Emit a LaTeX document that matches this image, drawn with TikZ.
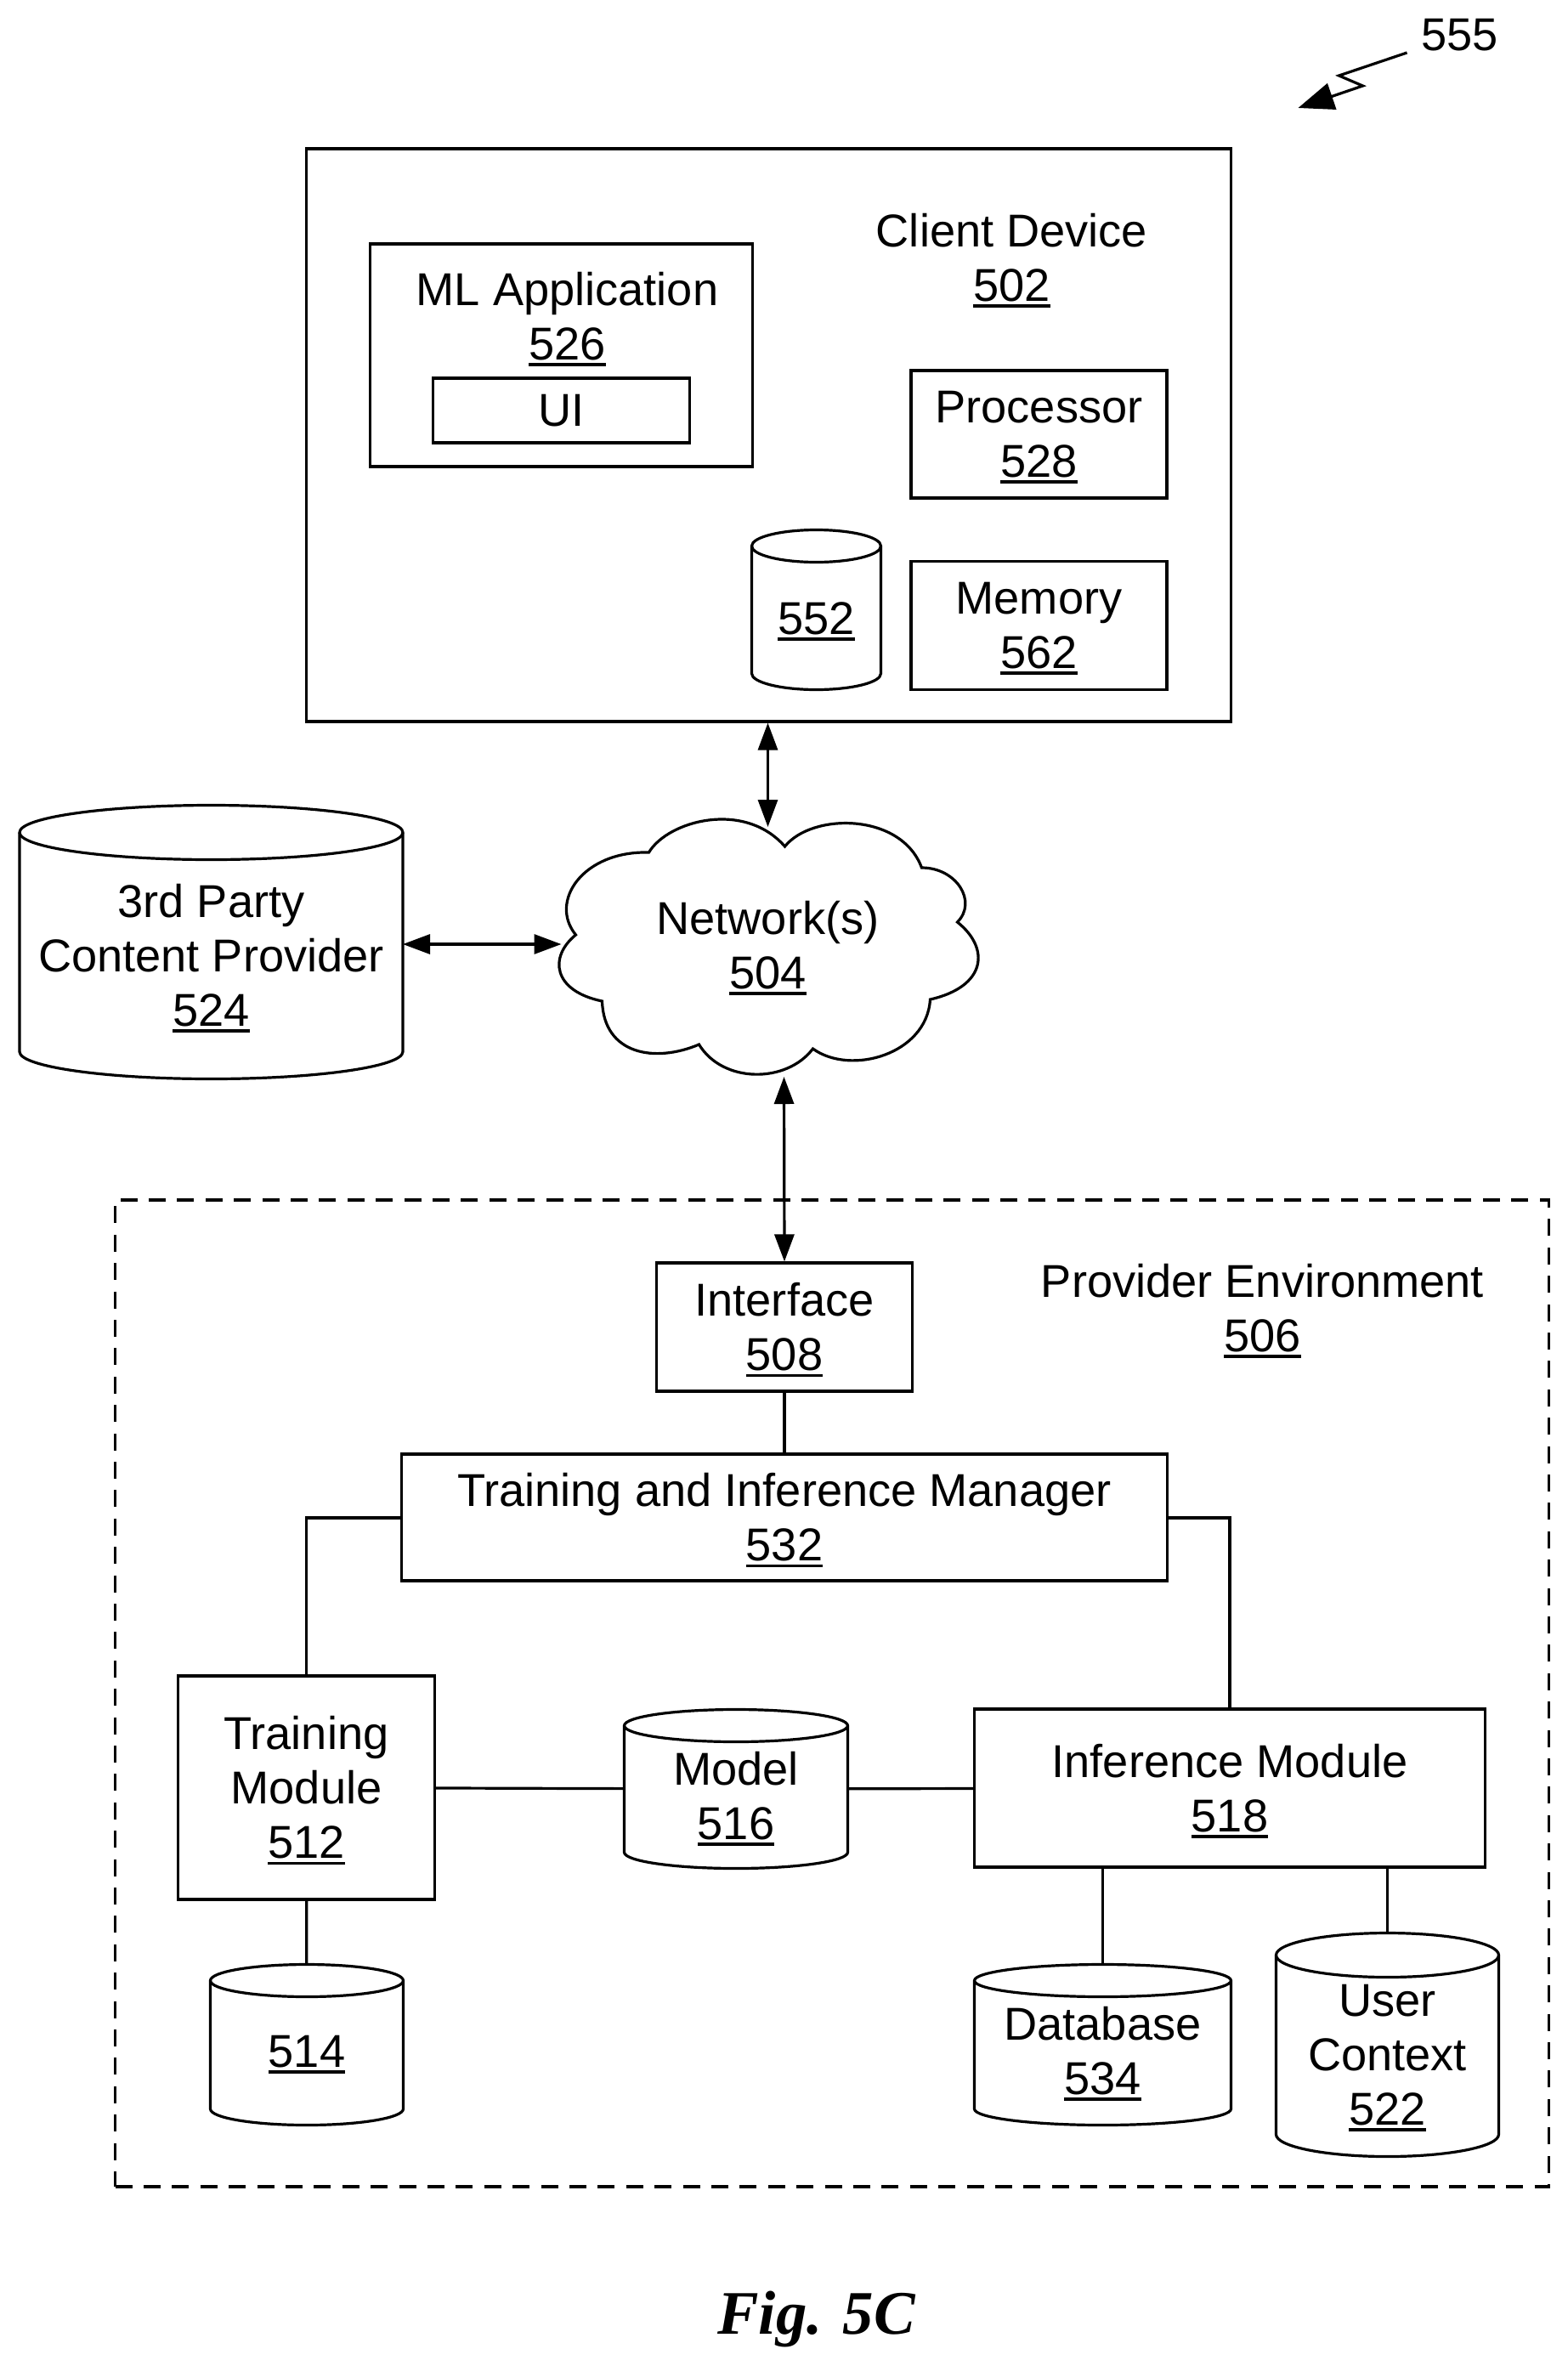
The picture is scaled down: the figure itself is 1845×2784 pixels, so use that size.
\documentclass[tikz,border=0pt]{standalone}
\usepackage{fontspec}
\setmainfont{Liberation Sans}
\newfontfamily\figfont{Liberation Serif}
\usetikzlibrary{arrows.meta,positioning}

\newcommand{\refnum}[1]{\setbox0\hbox{#1}\rlap{\smash{\rule[-3.6pt]{\wd0}{1.7pt}}}\box0}

\tikzset{
    every node/.style={align=center, inner sep=0pt, font=\fontsize{27.1}{32}\selectfont},
    box/.style={draw, line width=1.6pt},
    drum/.style={outer sep=0pt},
    link/.style={line width=1.6pt},
    duplex/.style={line width=1.6pt, {Triangle[length=16pt,width=11.5pt]}-{Triangle[length=16pt,width=11.5pt]}},
}

\begin{document}
\begin{tikzpicture}[x=0.5pt,y=-0.5pt]
    \useasboundingbox (0,0) rectangle (1845,2784);

    \begin{scope}[shift={(0.5,1)}]
        % Reference arrow
        \node (ref) at (1717,40) {555};
        \coordinate (zigstart) at (1655,61);
        \coordinate (zigtip) at (1527,126);
        \draw [line width=1.6pt, -{Triangle[length=21pt,width=16pt]}] (zigstart) -- (1575,88) -- (1603,100) -- (zigtip);

        % Client device
        \node [box, minimum width=544pt, minimum height=337pt] (client) at (904,511) {};
        \node (clientlabel) at (1190,302) {Client Device\\\refnum{502}};
        \node [box, minimum width=225pt, minimum height=131pt] (mlapp) at (660,417) {};
        \node (mllabel) at (667,371) {ML Application\\\refnum{526}};
        \node [box, minimum width=151pt, minimum height=38pt] (ui) at (660,482) {UI};
        \node [box, minimum width=150.5pt, minimum height=75pt] (processor) at (1222,510) {Processor\\\refnum{528}};
        \node [box, minimum width=150.5pt, minimum height=75.5pt] (memory) at (1222,735) {Memory\\\refnum{562}};
        \node [drum, minimum width=76pt, minimum height=94pt] (clientstore) at (960,716.5) {};
        \node (clientstorelabel) at (960,727) {\refnum{552}};

        % Network
        \node (network) at (903,1111) {Network(s)\\\refnum{504}};
        \draw [line width=1.6pt] (763,1002)
            .. controls (785,965) and (875,940) .. (923,995)
            .. controls (955,955) and (1060,955) .. (1084,1020)
            .. controls (1125,1020) and (1150,1060) .. (1126,1084)
            .. controls (1165,1115) and (1160,1160) .. (1094,1175)
            .. controls (1090,1240) and (1000,1265) .. (956,1233)
            .. controls (925,1274) and (850,1274) .. (822,1228)
            .. controls (770,1250) and (710,1240) .. (708,1177)
            .. controls (650,1165) and (645,1125) .. (677,1099)
            .. controls (645,1060) and (685,1000) .. (763,1002)
            -- cycle;
        \coordinate (nettop) at (903,972);
        \coordinate (netleft) at (660,1110);
        \coordinate (netbottom) at (922,1266);

        % Third party
        \node [drum, minimum width=225.5pt, minimum height=161pt] (thirdparty) at (248,1107.5) {};
        \node (thirdpartylabel) at (248,1123) {3rd Party\\Content Provider\\\refnum{524}};

        % Provider environment
        \node [draw, line width=1.6pt, dash pattern=on 10pt off 6.7pt, minimum width=843.5pt, minimum height=580.5pt] (provider) at (978.5,1991.5) {};
        \node (providerlabel) at (1485,1538) {Provider Environment\\\refnum{506}};
        \node [box, minimum width=150.5pt, minimum height=75.5pt] (interface) at (922.5,1560.5) {Interface\\\refnum{508}};
        \node [box, minimum width=450.5pt, minimum height=74.5pt] (manager) at (922.5,1784.5) {Training and Inference Manager\\\refnum{532}};
        \node [box, minimum width=151pt, minimum height=131.5pt] (training) at (360,2102.5) {Training\\Module\\\refnum{512}};
        \node [drum, minimum width=131.5pt, minimum height=93.5pt] (model) at (865.5,2104) {};
        \node (modellabel) at (865.5,2112) {Model\\\refnum{516}};
        \node [box, minimum width=300.5pt, minimum height=93pt] (inference) at (1446.5,2103) {Inference Module\\\refnum{518}};
        \node [drum, minimum width=113.5pt, minimum height=94.5pt] (store) at (360.5,2405) {};
        \node (storelabel) at (360.5,2413) {\refnum{514}};
        \node [drum, minimum width=151pt, minimum height=94.5pt] (database) at (1297,2405) {};
        \node (databaselabel) at (1297,2412) {Database\\\refnum{534}};
        \node [drum, minimum width=131pt, minimum height=131.5pt] (context) at (1632,2405) {};
        \node (contextlabel) at (1632,2417) {User\\Context\\\refnum{522}};

        % Drum outlines
        \foreach \name/\rx/\ry in {clientstore/38/9.5, thirdparty/112.75/16, model/65.75/9.5, store/56.75/9.5, database/75.5/9.5, context/65.5/13} {
            \draw [line width=1.6pt] ([yshift=-\ry pt]\name.north west)
                arc [start angle=180, end angle=0, x radius=\rx pt, y radius=\ry pt]
                -- ([yshift=\ry pt]\name.south east)
                arc [start angle=0, end angle=-180, x radius=\rx pt, y radius=\ry pt]
                -- cycle;
            \draw [line width=1.6pt] ([yshift=-\ry pt]\name.north east)
                arc [start angle=0, end angle=-180, x radius=\rx pt, y radius=\ry pt];
        }

        % Figure label
        \node [font=\figfont\fontsize{36.4}{42}\selectfont\bfseries\itshape] (figlabel) at (960,2728) {Fig. 5C};

        % Connectors
        \draw [duplex] (client.south -| nettop) -- (nettop);
        \draw [duplex] (thirdparty.east |- netleft) -- (netleft);
        \draw [duplex] (netbottom) -- (interface.north);
        \draw [link] (interface) -- (manager);
        \draw [link] (manager.west |- 0,1785) -| (training.north);
        \draw [link] (manager.east |- 0,1785) -| (inference.north);
        \foreach \from/\to in {training/model, model/inference, training/store} {
            \draw [link] (\from) -- (\to);
        }
        \draw [link] (inference.south -| database) -- (database);
        \draw [link] (inference.south -| context) -- (context);
    \end{scope}
\end{tikzpicture}
\end{document}
